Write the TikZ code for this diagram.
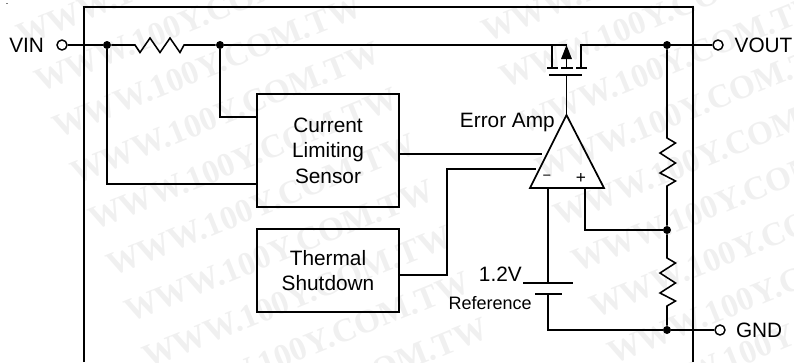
\documentclass[tikz,border=0pt]{standalone}
\usepackage{fontspec}
\setmainfont{Liberation Sans}
\newfontfamily\markfont{Liberation Serif}
\usetikzlibrary{calc,positioning,arrows.meta}
\definecolor{markgray}{rgb}{0.94,0.94,0.94}
\tikzset{
	every node/.style={font=\fontsize{15.6}{19.2}\selectfont, inner sep=0pt},
	wire/.style={line width=1.15pt, black},
	block/.style={draw, line width=1.3pt, minimum width=106.5pt, align=center},
	dot/.style={circle, fill=black, minimum size=6pt},
	pin/.style={circle, draw, line width=1.1pt, fill=white, minimum size=7.5pt},
	watermark/.style={text=markgray, rotate=22, font=\markfont\fontsize{25}{25}\bfseries\selectfont},
}
\begin{document}
\begin{tikzpicture}[x=0.75pt, y=-0.75pt]
        \useasboundingbox (0,0) rectangle (794,362);

        % background text
        \foreach \row in {-2,...,7} {
            \node[watermark] (markl\row) at (207+18*\row, 67+46*\row) {WWW.100Y.COM.TW};
            \node[watermark] (markr\row) at (672+18*\row, 63+46*\row) {WWW.100Y.COM.TW};
        }

        \fill[gray] (6,3) rectangle (8,4);

        % package outline, open at the bottom
        \coordinate (boxbl) at (84,362);
        \coordinate (boxtl) at (84,7);
        \coordinate (boxtr) at (693,7);
        \coordinate (boxbr) at (693,362);
        \draw[wire] (boxbl) -- (boxtl) -- (boxtr) -- (boxbr);

        \node[block, minimum height=84.75pt] (sensor) at (328,150.5) {Current\\Limiting\\Sensor};
        \node[block, minimum height=62pt] (thermal) at (328,270.5) {Thermal\\Shutdown};

        \node[pin] (vin) at (62,45) {};
        \node[pin] (vout) at (718,45) {};
        \node[pin] (gnd) at (720,330) {};
        \node[left=9pt of vin] (vinlabel) {VIN};
        \node[right=8pt of vout] (voutlabel) {VOUT};
        \node[right=7.5pt of gnd] (gndlabel) {GND};

        \node[dot] (j1) at (107,45) {};
        \node[dot] (j2) at (220,45) {};
        \node[dot] (j3) at (667,45) {};
        \node[dot] (j4) at (667,230) {};
        \node[dot] (j5) at (667,330) {};

        % error amp
        \coordinate (apex) at (566.5,115);
        \coordinate (baseleft) at (530,188);
        \coordinate (baseright) at (604,188);
        \coordinate (inminus) at (548,188);
        \coordinate (inplus) at (585,188);
        \draw[line width=1.3pt, line join=miter] (apex) -- (baseright) -- (baseleft) -- cycle;
        \node[anchor=east] (amplabel) at (555,122) {Error Amp};
        \node[font=\fontsize{11}{12}\selectfont] (minus) at (547,178) {−};
        \node[font=\fontsize{13}{14}\selectfont] (plus) at (581,178) {+};

        % pass transistor
        \coordinate (src) at (552,45);
        \coordinate (srcb) at (552,68);
        \coordinate (drn) at (581,45);
        \coordinate (drnb) at (581,68);
        \coordinate (gate) at (566.5,75);
        \coordinate (mid) at (566.5,68);
        \draw[wire] (j1) -- (vin);
        \draw[wire] (j1) -- (135,45) -- (140,52.5) -- (150,38) -- (160,52.5) -- (170,38) -- (180,52.5) -- (184,45) -- (j2);
        \draw[wire] (j2) -- (mid |- j2) -- (mid);
        \draw[wire] (src) -- (srcb);
        \draw[wire] (vout) -- (drn) -- (drnb);
        \draw[line width=1.3pt] (547,68) -- (558,68);
        \draw[line width=1.3pt] (561,68) -- (573,68);
        \draw[line width=1.3pt] (576,68) -- (587,68);
        \draw[line width=1.5pt] (549,75) -- (582,75);
        \fill (566.5,45) -- (572,59) -- (561,59) -- cycle;
        \draw[wire] (gate) -- (apex);

        % sensor and thermal wiring
        \draw[wire] (j2) |- (sensor.west |- 0,117);
        \draw[wire] (j1) |- (sensor.west |- 0,184);
        \draw[wire] (sensor.east |- 0,154) -- (542,154);
        \draw[wire] (thermal.east |- 0,275) -- (447,275) |- (536,169);

        % divider
        \draw[wire] (j3) -- (667,138) -- (675.5,143) -- (660,153) -- (675.5,163) -- (660,173) -- (675.5,181) -- (667,186) -- (j4);
        \draw[wire] (j4) -- (667,258) -- (675.5,263) -- (660,273) -- (675.5,283) -- (660,293) -- (675.5,301) -- (667,306) -- (j5);
        \draw[wire] (inplus) |- (j4);
        \draw[wire] (gnd) -- (j5);

        % reference
        \coordinate (platea) at (548,283);
        \coordinate (plateb) at (548,294);
        \draw[wire] (inminus) -- (platea);
        \draw[wire] (plateb) |- (j5);
        \draw[line width=1.3pt] (523,283) -- (573,283);
        \draw[line width=1.3pt] (535,294) -- (562,294);
        \node[anchor=east] (reflabel) at (522,274) {1.2V};
        \node[anchor=east, font=\fontsize{13.5}{15}\selectfont] (refname) at (532,303) {Reference};
\end{tikzpicture}
\end{document}
